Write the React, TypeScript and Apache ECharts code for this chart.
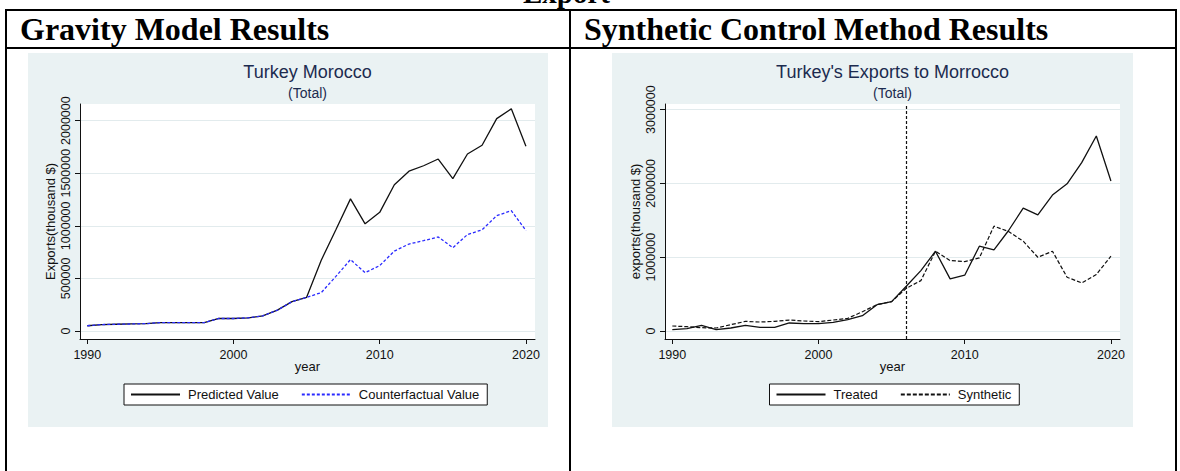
import React, { useEffect, useRef } from "react";
import * as echarts from "echarts";

// ---------- data ----------
const years = [
  1990, 1991, 1992, 1993, 1994, 1995, 1996, 1997, 1998, 1999,
  2000, 2001, 2002, 2003, 2004, 2005, 2006, 2007, 2008, 2009,
  2010, 2011, 2012, 2013, 2014, 2015, 2016, 2017, 2018, 2019, 2020,
];

const predictedValue = [
  50000, 61000, 64000, 67000, 70000, 80000, 80000, 80000, 80000, 119000,
  119000, 125000, 144000, 199000, 279000, 320000, 673000, 962000, 1256000, 1019000,
  1128000, 1391000, 1519000, 1571000, 1635000, 1449000, 1683000, 1766000, 2019000, 2112000, 1756000,
];

const counterfactualValue = [
  50000, 61000, 64000, 67000, 70000, 80000, 80000, 80000, 80000, 119000,
  119000, 125000, 144000, 199000, 279000, 320000, 365000, 519000, 679000, 554000,
  622000, 760000, 827000, 859000, 894000, 792000, 917000, 962000, 1096000, 1144000, 955000,
];

const treated = [
  18000, 32000, 77000, 18000, 41000, 77000, 50000, 50000, 109000, 100000,
  100000, 118000, 154000, 208000, 357000, 398000, 606000, 819000, 1081000, 706000,
  756000, 1149000, 1100000, 1362000, 1665000, 1575000, 1842000, 1995000, 2281000, 2643000, 2032000,
];

const synthetic = [
  68000, 59000, 45000, 41000, 86000, 131000, 122000, 131000, 149000, 136000,
  127000, 149000, 172000, 262000, 357000, 398000, 579000, 683000, 1081000, 955000,
  941000, 991000, 1421000, 1348000, 1217000, 1000000, 1081000, 729000, 652000, 765000, 1014000,
];

const xTicks = [1990, 2000, 2010, 2020];
const gravityYTicks = [0, 500000, 1000000, 1500000, 2000000];
const scmYTicks = [0, 1000000, 2000000, 3000000];
const treatmentYear = 2006;

// ---------- style ----------
const FONT = '"Liberation Sans", Arial, Helvetica, sans-serif';
const SERIF = '"Liberation Serif", "Times New Roman", serif';
const BG = "#eaf2f3";
const GRID_LINE = "#e2ebed";
const INK = "#111111";
const TITLE = "#1c2b4f";
const BLUE = "#2a2aff";

const pairs = (vals: number[]) => years.map((y, i) => [y, vals[i]]);

function makeOption(cfg: {
  title: string;
  yName: string;
  yMin: number;
  yMax: number;
  yTicks: number[];
  gridLeft: number;
  legendLeft: number;
  legendData: string[];
  series: any[];
}) {
  const center = cfg.gridLeft + 455 / 2;
  return {
    animation: false,
    backgroundColor: BG,
    textStyle: { fontFamily: FONT },
    title: [
      {
        text: cfg.title,
        left: center,
        top: 10,
        textAlign: "center",
        padding: 0,
        textStyle: { fontSize: 18, fontWeight: "normal", color: TITLE, fontFamily: FONT },
      },
      {
        text: "(Total)",
        left: center,
        top: 33,
        textAlign: "center",
        padding: 0,
        textStyle: { fontSize: 14, fontWeight: "normal", color: TITLE, fontFamily: FONT },
      },
    ],
    grid: {
      left: cfg.gridLeft,
      top: 51,
      width: 455,
      height: 235,
      show: true,
      backgroundColor: "#ffffff",
      borderWidth: 0,
    },
    xAxis: {
      type: "value",
      min: 1989.5,
      max: 2020.62,
      name: "year",
      nameLocation: "middle",
      nameGap: 21,
      nameMoveOverlap: false,
      nameTextStyle: { fontSize: 13, color: INK, fontFamily: FONT },
      axisLine: { show: true, onZero: false, lineStyle: { color: INK, width: 1 } },
      axisTick: { show: true, length: 5, customValues: xTicks, lineStyle: { color: INK, width: 1 } },
      axisLabel: {
        customValues: xTicks,
        margin: 9,
        fontSize: 12.5,
        color: INK,
        fontFamily: FONT,
        formatter: (v: number) => String(v),
      },
      splitLine: { show: false },
    },
    yAxis: {
      type: "value",
      min: cfg.yMin,
      max: cfg.yMax,
      name: cfg.yName,
      nameLocation: "middle",
      nameGap: 23.5,
      nameMoveOverlap: false,
      nameTextStyle: { fontSize: 13, color: INK, fontFamily: FONT },
      axisLine: { show: true, onZero: false, lineStyle: { color: INK, width: 1 } },
      axisTick: { show: true, length: 5, customValues: cfg.yTicks, lineStyle: { color: INK, width: 1 } },
      axisLabel: {
        customValues: cfg.yTicks,
        rotate: 90,
        margin: 8,
        fontSize: 12.5,
        color: INK,
        fontFamily: FONT,
        formatter: (v: number) => String(v),
      },
      splitLine: { show: true, lineStyle: { color: GRID_LINE, width: 1.2 } },
    },
    legend: {
      left: cfg.legendLeft,
      top: 331,
      orient: "horizontal",
      padding: [4, 8, 4, 6],
      itemWidth: 49,
      itemHeight: 13,
      itemGap: 22,
      backgroundColor: "#ffffff",
      borderColor: INK,
      borderWidth: 1,
      borderRadius: 0,
      itemStyle: { opacity: 0 },
      textStyle: { fontSize: 13, color: INK, fontFamily: FONT, padding: [0, 0, 0, 3] },
      data: cfg.legendData,
    },
    series: cfg.series,
  };
}

const gravityOption = makeOption({
  title: "Turkey Morocco",
  yName: "Exports(thousand $)",
  yMin: -76000,
  yMax: 2158000,
  yTicks: gravityYTicks,
  gridLeft: 52,
  legendLeft: 96,
  legendData: ["Predicted Value", "Counterfactual Value"],
  series: [
    {
      name: "Predicted Value",
      type: "line",
      data: pairs(predictedValue),
      symbol: "none",
      lineStyle: { color: INK, width: 1.3 },
      itemStyle: { color: INK },
      z: 2,
    },
    {
      name: "Counterfactual Value",
      type: "line",
      data: pairs(counterfactualValue),
      symbol: "none",
      lineStyle: { color: BLUE, width: 1.3, type: [3, 2] },
      itemStyle: { color: BLUE },
      z: 3,
    },
  ],
});

const scmOption = makeOption({
  title: "Turkey's Exports to Morrocco",
  yName: "exports(thousand $)",
  yMin: -108000,
  yMax: 3076000,
  yTicks: scmYTicks,
  gridLeft: 53,
  legendLeft: 157.5,
  legendData: ["Treated", "Synthetic"],
  series: [
    {
      name: "Treated",
      type: "line",
      data: pairs(treated),
      symbol: "none",
      lineStyle: { color: INK, width: 1.3 },
      itemStyle: { color: INK },
      z: 2,
      markLine: {
        silent: true,
        symbol: "none",
        label: { show: false },
        lineStyle: { color: INK, width: 1.2, type: [3, 2] },
        data: [{ xAxis: treatmentYear }],
      },
    },
    {
      name: "Synthetic",
      type: "line",
      data: pairs(synthetic),
      symbol: "none",
      lineStyle: { color: INK, width: 1.2, type: [4, 2] },
      itemStyle: { color: INK },
      z: 3,
    },
  ],
});

function Chart({ option, style }: { option: any; style: React.CSSProperties }) {
  const ref = useRef<HTMLDivElement>(null);
  useEffect(() => {
    if (!ref.current) return;
    const chart = echarts.init(ref.current, null, { renderer: "svg" });
    chart.setOption(option);
    return () => chart.dispose();
  }, [option]);
  return <div ref={ref} style={style} />;
}

const line = (left: number, top: number, width: number, height: number): React.CSSProperties => ({
  position: "absolute",
  left,
  top,
  width,
  height,
  background: "#000",
});

export default function App() {
  return (
    <div
      style={{
        position: "fixed",
        left: 0,
        top: 0,
        width: 1180,
        height: 471,
        background: "#fff",
        overflow: "hidden",
        fontFamily: SERIF,
      }}
    >
      <div
        style={{
          position: "absolute",
          left: 523,
          top: -21,
          fontSize: 29,
          lineHeight: "29px",
          fontWeight: "bold",
          whiteSpace: "nowrap",
          color: "#000",
        }}
      >
        Export
      </div>
      <div style={line(5, 9, 1172, 2)} />
      <div style={line(5, 46.5, 1172, 2)} />
      <div style={line(5, 9, 2, 470)} />
      <div style={line(568.5, 9, 2, 470)} />
      <div style={line(1175, 9, 2, 470)} />
      <div
        style={{
          position: "absolute",
          left: 20,
          top: 13,
          fontSize: 32,
          lineHeight: "32px",
          fontWeight: "bold",
          whiteSpace: "nowrap",
          color: "#000",
        }}
      >
        Gravity Model Results
      </div>
      <div
        style={{
          position: "absolute",
          left: 584,
          top: 13,
          fontSize: 32,
          lineHeight: "32px",
          fontWeight: "bold",
          whiteSpace: "nowrap",
          color: "#000",
        }}
      >
        Synthetic Control Method Results
      </div>
      <Chart
        option={gravityOption}
        style={{ position: "absolute", left: 28, top: 53, width: 520, height: 374 }}
      />
      <Chart
        option={scmOption}
        style={{ position: "absolute", left: 612, top: 53, width: 521, height: 374 }}
      />
    </div>
  );
}
